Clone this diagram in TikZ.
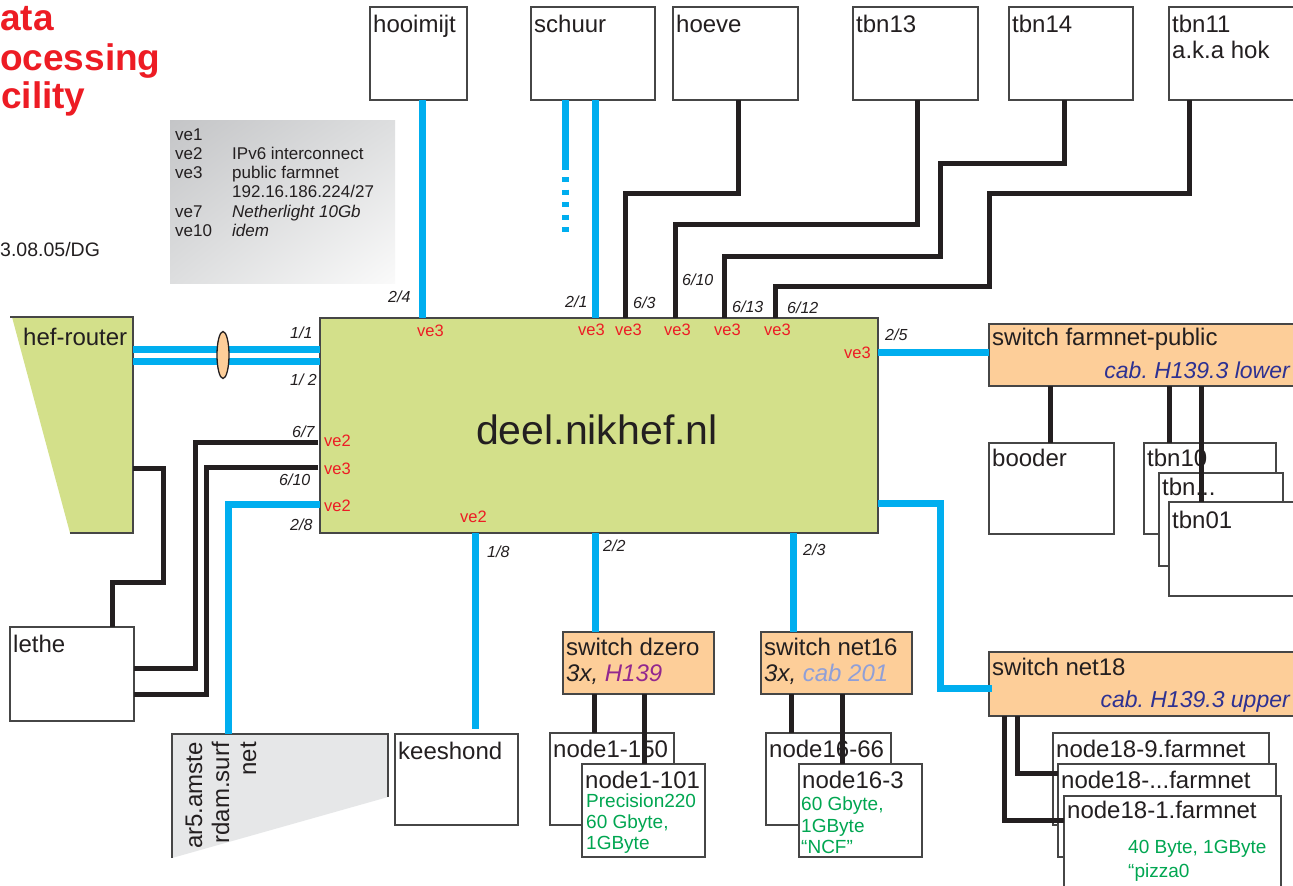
\documentclass[tikz,border=0pt]{standalone}
\usepackage{fontspec}
\setmainfont{Liberation Sans}
\usetikzlibrary{calc,shapes.geometric,shadings}
\frenchspacing
\definecolor{grnf}{RGB}{211,224,138}
\definecolor{peach}{RGB}{253,206,153}
\definecolor{cyanl}{RGB}{0,174,239}
\definecolor{redl}{RGB}{237,28,36}
\definecolor{cabblue}{RGB}{46,49,146}
\definecolor{magl}{RGB}{146,39,143}
\definecolor{lavl}{RGB}{143,159,216}
\definecolor{grnt}{RGB}{0,166,81}
\definecolor{bordc}{RGB}{70,70,70}
\definecolor{txtc}{RGB}{35,31,32}
\definecolor{grayf}{RGB}{230,231,232}
\definecolor{lgA}{RGB}{196,197,199}
\definecolor{lgB}{RGB}{221,222,223}
\definecolor{lgC}{RGB}{250,250,250}
\newcommand{\myfN}{\fontsize{24}{28}\selectfont}
\newcommand{\myfS}{\fontsize{16}{19}\selectfont\itshape}
\newcommand{\myfV}{\fontsize{16.5}{19}\selectfont}
\newcommand{\myfL}{\fontsize{17}{19}\selectfont}
\newcommand{\myfG}{\fontsize{19}{21}\selectfont}
\newcommand{\myfC}{\fontsize{23}{26}\selectfont\itshape}
\newcommand{\myfT}{\fontsize{37}{40}\selectfont\bfseries}
\newcommand{\myfD}{\fontsize{41}{45}\selectfont}
\newcommand{\myfDt}{\fontsize{19.5}{22}\selectfont}
\begin{document}
\begin{tikzpicture}[x=1pt,y=-1pt,
  box/.style 2 args={draw=bordc,line width=1.2pt,fill=white,anchor=north west,inner sep=0pt,outer sep=0pt,minimum width=#1pt,minimum height=#2pt},
  gbox/.style 2 args={box={#1}{#2},fill=grnf},
  pbox/.style 2 args={box={#1}{#2},fill=peach},
  ghost/.style 2 args={anchor=north west,inner sep=0pt,outer sep=0pt,minimum width=#1pt,minimum height=#2pt},
  nt/.style={font=\myfN,text=txtc,anchor=base west,inner sep=0pt},
  pl/.style={font=\myfS,text=txtc,anchor=base west,inner sep=0pt},
  vl/.style={font=\myfV,text=redl,anchor=base west,inner sep=0pt},
  lg/.style={font=\myfL,text=txtc,anchor=base west,inner sep=0pt},
  gt/.style={font=\myfG,text=grnt,anchor=base west,inner sep=0pt},
  ct/.style={font=\myfC,text=cabblue,anchor=base east,inner sep=0pt},
  ttl/.style={font=\myfT,text=redl,anchor=base west,inner sep=0pt},
  blu/.style={draw=cyanl,line width=7pt},
  blk/.style={draw=txtc,line width=5pt}]
\useasboundingbox (0,0) rectangle (1293,886);
\clip (0,0) rectangle (1293,886);
\fill[white] (0,0) rectangle (1293,886);

% title (as visible in the picture)
\node[ttl] (ti1) at (0,30) {ata};
\node[ttl] (ti2) at (0,70) {ocessing};
\node[ttl] (ti3) at (1,108) {cility};
\node[font=\myfDt,text=txtc,anchor=base west,inner sep=0pt] (date) at (0,256) {3.08.05/DG};

% legend
\shade[upper left=lgA,upper right=lgB,lower left=lgB,lower right=lgC] (170,120) rectangle (395,283);
\node[lg] (l1) at (175,140) {ve1};
\node[lg] (l2) at (175,159) {ve2};
\node[lg] (l2b) at (232,159) {IPv6 interconnect};
\node[lg] (l3) at (175,178) {ve3};
\node[lg] (l3b) at (232,178) {public farmnet};
\node[lg] (l3c) at (232,197) {192.16.186.224/27};
\node[lg] (l7) at (175,217) {ve7};
\node[lg] (l7b) at (232,217) {\itshape Netherlight 10Gb};
\node[lg] (l10) at (175,236) {ve10};
\node[lg] (l10b) at (232,236) {\itshape idem};

% top boxes
\node[box={97}{93}] (hoo) at (370,7) {};
\node[nt] (hoot) at (373,32) {hooimijt};
\node[box={124}{93}] (sch) at (531,7) {};
\node[nt] (scht) at (534,32) {schuur};
\node[box={125}{93}] (hoe) at (673,7) {};
\node[nt] (hoet) at (676,32) {hoeve};
\node[box={125}{93}] (t13) at (853,7) {};
\node[nt] (t13t) at (856,32) {tbn13};
\node[box={124}{93}] (t14) at (1009,7) {};
\node[nt] (t14t) at (1012,32) {tbn14};
\node[box={140}{93}] (t11) at (1169,7) {};
\node[nt] (t11t) at (1172,32) {tbn11};
\node[nt] (t11u) at (1172,58) {a.k.a hok};

% hef-router
\fill[grnf] (12,317) -- (133,317) -- (133,533) -- (70,533) -- cycle;
\draw[bordc,line width=1.2pt] (10,317) -- (133,317) -- (133,533) -- (70,533);
\node[ghost={121}{216}] (hef) at (12,317) {};
\node[nt] (heft) at (23,345) {hef-router};

% main box
\node[gbox={558}{215}] (deel) at (320,318) {};
\node[font=\myfD,text=txtc,anchor=base,inner sep=0pt] (deelt) at (597,444) {deel.nikhef.nl};

% lethe
\node[box={124}{94}] (lethe) at (10,627) {};
\node[nt] (lethet) at (13,652) {lethe};

% ar5
\fill[grayf] (172,734) -- (388,734) -- (388,797) -- (172,858) -- cycle;
\draw[bordc,line width=1.2pt] (172,858) -- (172,734) -- (388,734) -- (388,797);
\node[ghost={216}{124}] (ar5) at (172,734) {};
\node[nt,rotate=90,anchor=base east] (ar5a) at (202,742) {ar5.amste};
\node[nt,rotate=90,anchor=base east] (ar5b) at (229,742) {rdam.surf};
\node[nt,rotate=90,anchor=base east] (ar5c) at (256,742) {net};

% bottom middle
\node[box={123}{91}] (kee) at (395,734) {};
\node[nt] (keet) at (398,759) {keeshond};
\node[pbox={151}{62}] (dz) at (563,632) {};
\node[nt] (dzt) at (566,655) {switch dzero};
\node[nt,font=\myfN\itshape] (dzu) at (566,681) {3x, \textcolor{magl}{H139}};
\node[pbox={151}{62}] (n16) at (761,632) {};
\node[nt] (n16t) at (764,655) {switch net16};
\node[nt,font=\myfN\itshape] (n16u) at (764,681) {3x, \textcolor{lavl}{cab 201}};
\node[box={124}{92}] (n150) at (550,733) {};
\node[nt] (n150t) at (553,757) {node1-150};
\node[box={123}{93}] (n101) at (582,764) {};
\node[nt] (n101t) at (585,788) {node1-101};
\node[gt] (n101a) at (586,807) {Precision220};
\node[gt] (n101b) at (586,828) {60 Gbyte,};
\node[gt] (n101c) at (586,849) {1GByte};
\node[box={125}{92}] (n1666) at (766,733) {};
\node[nt] (n1666t) at (769,757) {node16-66};
\node[box={123}{93}] (n163) at (799,764) {};
\node[nt] (n163t) at (802,788) {node16-3};
\node[gt] (n163a) at (801,810) {60 Gbyte,};
\node[gt] (n163b) at (801,832) {1GByte};
\node[gt] (n163c) at (801,853) {“NCF”};

% right side
\node[pbox={320}{62}] (fp) at (989,324) {};
\node[nt] (fpt) at (992,345) {switch farmnet-public};
\node[ct] (fpu) at (1290,378) {cab. H139.3 lower};
\node[box={125}{91}] (boo) at (989,443) {};
\node[nt] (boot) at (992,466) {booder};
\node[box={132}{91}] (tbn10) at (1144,443) {};
\node[nt] (tbn10t) at (1147,466) {tbn10};
\node[box={124}{93}] (tbnx) at (1159,473) {};
\node[nt] (tbnxt) at (1162,495) {tbn...};
\node[box={140}{94}] (tbn01) at (1169,502) {};
\node[nt] (tbn01t) at (1172,528) {tbn01};
\node[pbox={320}{64}] (n18) at (989,652) {};
\node[nt] (n18t) at (992,675) {switch net18};
\node[ct] (n18u) at (1290,707) {cab. H139.3 upper};
\node[box={216}{92}] (n189) at (1053,733) {};
\node[nt] (n189t) at (1056,757) {node18-9.farmnet};
\node[box={218}{93}] (n18x) at (1058,764) {};
\node[nt] (n18xt) at (1061,788) {node18-...farmnet};
\node[box={217}{100}] (n181) at (1064,796) {};
\node[nt] (n181t) at (1067,818) {node18-1.farmnet};
\node[gt] (n181a) at (1128,853) {40 Byte, 1GByte};
\node[gt] (n181b) at (1128,877) {“pizza0};

% top connectors
\draw[blu] ($(hoo.south west)+(52,0)$) -- ($(deel.north west)+(102,0)$);
\draw[blu] ($(sch.south west)+(34,0)$) -- ++(0,70) coordinate (sd1);
\draw[blu,dash pattern=on 5pt off 7.5pt] ($(sd1)+(0,7)$) -- ++(0,56);
\draw[blu] ($(sch.south west)+(64,0)$) -- ($(deel.north west)+(275,0)$);
\draw[blk] ($(hoe.south west)+(65,0)$) -- ++(0,93) -| ($(deel.north west)+(305,0)$);
\draw[blk] ($(t13.south west)+(64,0)$) -- ++(0,124) -| ($(deel.north west)+(355,0)$);
\draw[blk] ($(t14.south west)+(55,0)$) |- (940,163) |- (724,256) -- ($(deel.north west)+(404,0)$);
\draw[blk] ($(t11.south west)+(20,0)$) |- (989,193) |- (775,286) -- ($(deel.north west)+(455,0)$);

% left connectors
\draw[blu] ($(hef.north east)+(0,32)$) -- ($(deel.north west)+(0,31)$);
\draw[blu] ($(hef.north east)+(0,44)$) -- ($(deel.north west)+(0,43)$);
\node[ellipse,draw=txtc,line width=1.3pt,fill=peach,minimum width=12pt,minimum height=47pt,inner sep=0pt] (ov) at (223,355) {};
\draw[blk] ($(hef.north east)+(0,151)$) -| (163,582) -| ($(lethe.north west)+(102,0)$);
\draw[blk] ($(deel.north west)+(-2,124)$) -| (195,668) -- ($(lethe.north east)+(0,41)$);
\draw[blk] ($(deel.north west)+(-2,149)$) -| (206,694) -- ($(lethe.north east)+(0,67)$);
\draw[blu] ($(deel.north west)+(0,186)$) -| ($(ar5.north west)+(56,0)$);

% bottom connectors
\draw[blu] ($(deel.south west)+(155,0)$) -- ($(kee.north west)+(80,-5)$);
\draw[blu] ($(deel.south west)+(275,0)$) -- ($(dz.north west)+(32,0)$);
\draw[blu] ($(deel.south west)+(473,0)$) -- ($(n16.north west)+(32,0)$);
\draw[blk] ($(dz.south west)+(31,0)$) -- ($(n150.north west)+(44,0)$);
\draw[blk] ($(dz.south west)+(81,0)$) -- ($(n101.north west)+(62,0)$);
\draw[blk] ($(n16.south west)+(30,0)$) -- ($(n1666.north west)+(25,0)$);
\draw[blk] ($(n16.south west)+(81,0)$) -- ($(n163.north west)+(43,0)$);

% right connectors
\draw[blu] ($(deel.north east)+(0,34)$) -- ($(fp.north west)+(0,28)$);
\draw[blu] ($(deel.north east)+(0,185)$) -| (940,688) -- ($(n18.north west)+(3,36)$);
\draw[blk] ($(fp.south west)+(61,0)$) -- ($(boo.north west)+(61,0)$);
\draw[blk] ($(fp.south west)+(180,0)$) -- ($(tbn10.north west)+(25,0)$);
\draw[blk] ($(fp.south west)+(212,0)$) -- ($(tbn01.north west)+(32,0)$);
\draw[blk] ($(n18.south west)+(15,0)$) |- ($(n181.north west)+(0,24)$);
\draw[blk] ($(n18.south west)+(28,0)$) |- ($(n18x.north west)+(0,9)$);

% port labels
\node[pl] (p24) at (388,302) {2/4};
\node[pl] (p11) at (290,338) {1/1};
\node[pl] (p12) at (290,385) {1/ 2};
\node[pl] (p67) at (292,437) {6/7};
\node[pl] (p610a) at (279,485) {6/10};
\node[pl] (p28) at (290,530) {2/8};
\node[pl] (p21) at (565,307) {2/1};
\node[pl] (p63) at (633,308) {6/3};
\node[pl] (p610b) at (682,285) {6/10};
\node[pl] (p613) at (732,312) {6/13};
\node[pl] (p612) at (787,313) {6/12};
\node[pl] (p25) at (885,340) {2/5};
\node[pl] (p18) at (487,557) {1/8};
\node[pl] (p22) at (603,551) {2/2};
\node[pl] (p23) at (803,555) {2/3};

% ve labels
\node[vl] (v1) at (417,336) {ve3};
\node[vl] (v2) at (578,335) {ve3};
\node[vl] (v3) at (615,335) {ve3};
\node[vl] (v4) at (664,335) {ve3};
\node[vl] (v5) at (714,335) {ve3};
\node[vl] (v6) at (764,335) {ve3};
\node[vl] (v7) at (844,358) {ve3};
\node[vl] (v8) at (324,446) {ve2};
\node[vl] (v9) at (324,474) {ve3};
\node[vl] (v10) at (324,511) {ve2};
\node[vl] (v11) at (460,522) {ve2};
\end{tikzpicture}
\end{document}
